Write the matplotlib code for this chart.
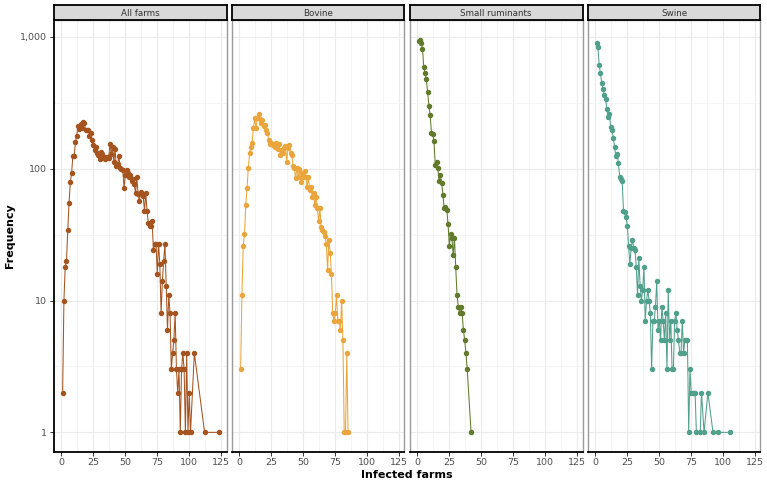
import matplotlib
matplotlib.use("Agg")
import matplotlib.pyplot as plt
from matplotlib.ticker import FixedLocator, FuncFormatter, NullFormatter

# Frequency of outbreak sizes (number of infected farms) per species group
panels = ["All farms", "Bovine", "Small ruminants", "Swine"]
colors = ["#A5541F", "#EAA63C", "#617A2B", "#50A08B"]

all_x = list(range(1, 102)) + [104, 112, 123]
all_y = [2, 10, 18, 20, 34, 55, 79, 93, 124, 124,
         159, 178, 211, 200, 218, 205, 225, 222, 195, 197,
         197, 178, 185, 165, 150, 138, 145, 132, 128, 118,
         135, 130, 122, 118, 120, 122, 120, 155, 130, 145,
         112, 140, 105, 108, 125, 101, 100, 98, 72, 89,
         97, 92, 86, 90, 81, 83, 76, 65, 86, 64,
         57, 66, 64, 62, 48, 65, 48, 39, 37, 37,
         40, 24, 27, 27, 16, 27, 19, 8, 14, 20,
         27, 13, 6, 11, 8, 3, 4, 5, 8, 3,
         2, 3, 1, 3, 4, 3, 1, 4, 1, 2,
         1, 4, 1, 1]

bov_x = list(range(1, 86))
bov_y = [3, 11, 26, 32, 53, 71, 101, 131, 147, 158,
         205, 241, 202, 241, 260, 238, 221, 233, 211, 216,
         197, 186, 164, 154, 157, 152, 154, 147, 157, 141,
         155, 128, 139, 131, 144, 149, 112, 144, 150, 131,
         128, 104, 101, 85, 101, 86, 99, 79, 93, 86,
         96, 87, 73, 86, 69, 73, 61, 65, 53, 61,
         50, 40, 50, 36, 34, 33, 31, 27, 17, 29,
         23, 16, 8, 7, 8, 11, 7, 7, 6, 10,
         5, 1, 1, 4, 1]

sr_x = list(range(1, 40)) + [42]
sr_y = [930, 952, 898, 815, 586, 528, 481, 383, 299, 256,
        188, 184, 161, 107, 113, 101, 80, 90, 78, 63,
        50, 51, 49, 38, 26, 32, 30, 22, 30, 18,
        11, 9, 8, 9, 8, 6, 5, 4, 3, 1]

sw_x = list(range(1, 80)) + [82, 83, 85, 88, 92, 96, 105]
sw_y = [898, 838, 609, 528, 448, 399, 362, 337, 282, 245,
        260, 206, 195, 172, 147, 124, 130, 110, 87, 83,
        80, 48, 47, 43, 37, 26, 19, 25, 29, 25,
        24, 18, 11, 21, 13, 10, 12, 18, 7, 10,
        12, 10, 8, 3, 7, 7, 9, 14, 6, 7,
        5, 9, 7, 5, 8, 3, 12, 5, 7, 3,
        3, 7, 8, 6, 5, 4, 4, 7, 4, 5,
        5, 5, 1, 3, 2, 2, 2, 2, 1, 1,
        2, 1, 2, 1, 1, 1]

series = [(all_x, all_y), (bov_x, bov_y), (sr_x, sr_y), (sw_x, sw_y)]

x_ticks = [0, 25, 50, 75, 100, 125]
y_ticks = [1, 10, 100, 1000]
y_minor = [10 ** 0.5, 10 ** 1.5, 10 ** 2.5]

W, H = 767, 482
fig = plt.figure(figsize=(W / 100, H / 100), dpi=100)

left0, step, pw = 53.5, 178, 173
top, bottom = 20, 452
strip_h = 15.5

for i, (name, col, (xs, ys)) in enumerate(zip(panels, colors, series)):
    l = left0 + i * step
    ax = fig.add_axes([l / W, (H - bottom) / H, pw / W, (bottom - top) / H])
    ax.plot(xs, ys, color=col, lw=0.75, marker="o", ms=2.9, mec=col, mfc=col, zorder=3)
    ax.set_yscale("log")
    ax.set_xlim(-6.15, 129.15)
    ax.set_ylim(10 ** -0.149, 10 ** 3.128)
    ax.xaxis.set_major_locator(FixedLocator(x_ticks))
    ax.xaxis.set_minor_locator(FixedLocator([12.5, 37.5, 62.5, 87.5, 112.5]))
    ax.yaxis.set_major_locator(FixedLocator(y_ticks))
    ax.yaxis.set_minor_locator(FixedLocator(y_minor))
    ax.yaxis.set_minor_formatter(NullFormatter())
    ax.grid(True, which="major", color="#EBEBEB", lw=0.8)
    ax.grid(True, which="minor", color="#F2F2F2", lw=0.6)
    ax.set_axisbelow(True)
    ax.tick_params(which="minor", length=0)
    ax.tick_params(which="major", length=3, width=0.7, color="#333333",
                   labelsize=6.8, labelcolor="#4D4D4D", pad=1.5)
    for s in ax.spines.values():
        s.set_color("#9A9A9A")
        s.set_linewidth(1.0)
    ax.spines["bottom"].set_color("black")
    ax.spines["bottom"].set_linewidth(1.3)
    if i == 0:
        ax.spines["left"].set_color("black")
        ax.spines["left"].set_linewidth(1.3)
        ax.yaxis.set_major_formatter(FuncFormatter(lambda v, p: f"{int(round(v)):,}"))
        ax.set_ylabel("Frequency", fontsize=8, fontweight="bold", labelpad=4)
    else:
        ax.tick_params(axis="y", which="both", left=False, labelleft=False)

    sax = fig.add_axes([l / W, (H - top) / H, pw / W, strip_h / H])
    sax.set_facecolor("#D9D9D9")
    sax.set_xticks([])
    sax.set_yticks([])
    for s in sax.spines.values():
        s.set_color("black")
        s.set_linewidth(1.3)
    sax.text(0.5, 0.45, name, ha="center", va="center", fontsize=6.3,
             color="#333333", transform=sax.transAxes)

fig.text((left0 + 1.5 * step + pw / 2) / W, 2 / H, "Infected farms", ha="center",
         va="bottom", fontsize=8, fontweight="bold")

fig.savefig("out.png", dpi=100)
